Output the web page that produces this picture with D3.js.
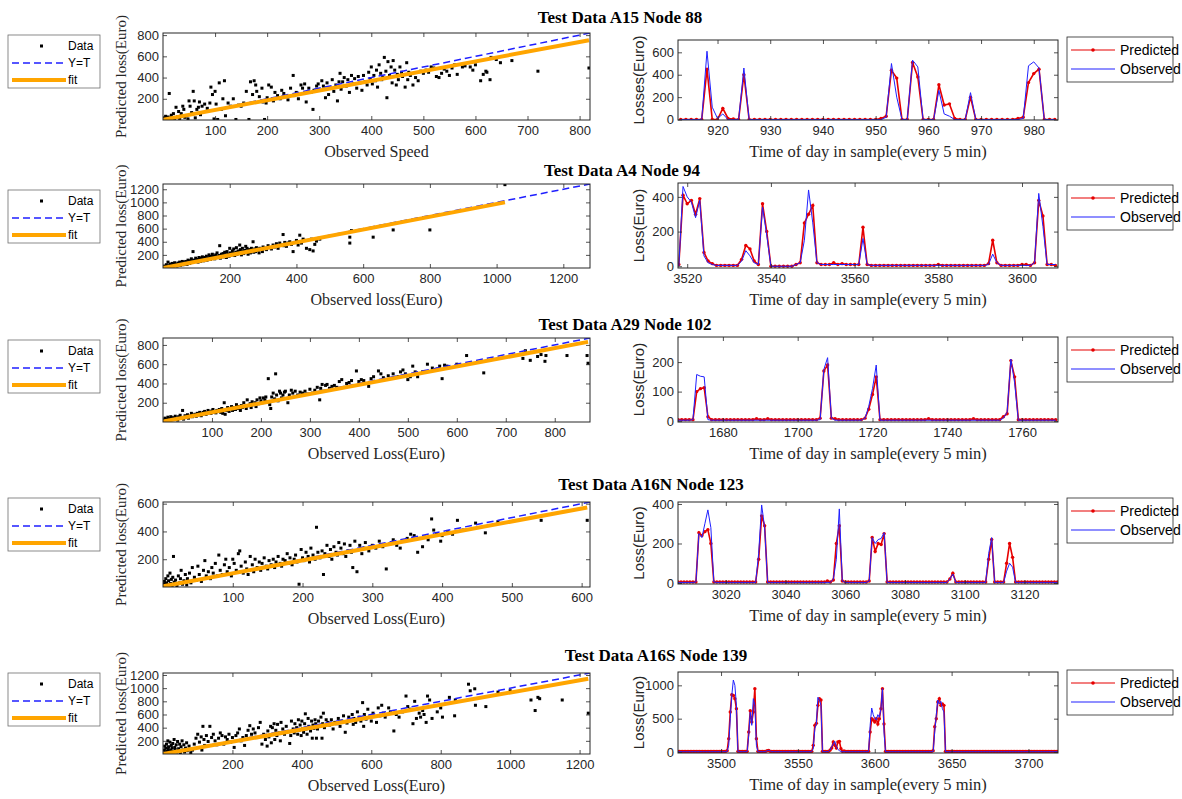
<!DOCTYPE html>
<html>
<head>
<meta charset="utf-8">
<script src="https://cdn.jsdelivr.net/npm/d3@7"></script>
<style>
body { margin: 0; background: #fff; }
</style>
</head>
<body>
<div id="chart"></div>
<script>
var titles = ['Test Data A15 Node 88', 'Test Data A4 Node 94', 'Test Data A29 Node 102',
    'Test Data A16N Node 123', 'Test Data A16S Node 139'];
var scatterXLabels = ['Observed Speed', 'Observed loss(Euro)', 'Observed Loss(Euro)',
    'Observed Loss(Euro)', 'Observed Loss(Euro)'];
var scatterYLabel = 'Predicted loss(Euro)';
var seriesXLabel = 'Time of day in sample(every 5 min)';
var seriesYLabels = ['Losses(Euro)', 'Loss(Euro)', 'Loss(Euro)', 'Loss(Euro)', 'Loss(Euro)'];

// scatter axes
var scatterMax = [820, 1280, 872, 612, 1230];
var scatterXTicks = [
    [100, 200, 300, 400, 500, 600, 700, 800],
    [200, 400, 600, 800, 1000, 1200],
    [100, 200, 300, 400, 500, 600, 700, 800],
    [100, 200, 300, 400, 500, 600],
    [200, 400, 600, 800, 1000, 1200]
];
var scatterYTicks = [
    [200, 400, 600, 800],
    [200, 400, 600, 800, 1000, 1200],
    [200, 400, 600, 800],
    [200, 400, 600],
    [200, 400, 600, 800, 1000, 1200]
];
// fit line end points [x0, y0, x1, y1]
var fitLines = [
    [0, 3, 818, 752],
    [0, 0, 1025, 1000],
    [0, 5, 868, 832],
    [0, 5, 608, 573],
    [0, 0, 1225, 1143]
];

// scatter points [observed, predicted]
var scatter1 = [[2,20],[4,5],[5,35],[8,12],[10,28],[12,250],[14,8],[16,45],[18,20],[20,60],[22,10],[25,120],[28,30],[30,80],[32,15],[35,60],[38,130],[40,100],[42,25],[45,40],[48,10],[50,180],[52,130],[55,70],[58,270],[60,180],[62,20],[65,100],[68,120],[70,170],[72,50],[75,130],[80,150],[85,110],[90,160],[92,310],[95,240],[98,10],[100,270],[102,150],[105,5],[108,350],[112,100],[115,200],[118,370],[120,40],[125,160],[130,130],[135,200],[140,5],[145,140],[150,130],[155,160],[160,270],[165,5],[168,360],[172,240],[175,370],[178,330],[180,270],[185,220],[190,300],[192,170],[195,5],[198,160],[200,210],[203,330],[208,310],[212,180],[215,260],[220,230],[225,200],[228,280],[232,250],[236,220],[240,190],[245,300],[250,420],[252,230],[256,260],[260,200],[265,330],[268,300],[272,340],[275,170],[280,300],[284,260],[288,100],[290,280],[295,320],[298,340],[302,280],[305,370],[308,320],[312,210],[315,350],[318,240],[322,300],[325,380],[328,270],[332,330],[335,180],[338,360],[340,440],[342,290],[345,360],[348,400],[352,320],[355,380],[358,260],[362,420],[365,340],[368,390],[372,300],[375,410],[378,350],[382,280],[385,420],[388,360],[392,330],[395,450],[398,390],[400,500],[402,340],[405,420],[408,370],[410,470],[412,310],[415,520],[418,440],[420,380],[422,400],[425,590],[428,460],[430,210],[432,550],[435,420],[438,500],[440,350],[442,560],[445,470],[448,330],[450,430],[452,380],[455,500],[458,450],[460,410],[465,310],[468,540],[470,380],[472,450],[475,420],[480,330],[485,400],[490,370],[495,460],[500,440],[505,470],[510,450],[515,500],[520,490],[525,410],[530,400],[535,440],[540,480],[545,460],[550,420],[555,490],[560,520],[565,430],[575,500],[580,510],[590,500],[595,470],[600,520],[610,370],[615,430],[620,460],[622,450],[628,380],[630,590],[640,570],[648,540],[670,560],[720,460],[818,490]];
var scatter2 = [[2,10],[5,30],[8,5],[10,50],[12,20],[15,90],[18,35],[20,15],[22,60],[25,40],[28,70],[30,25],[32,50],[35,80],[38,40],[40,60],[42,30],[45,75],[48,55],[50,90],[52,40],[55,65],[58,100],[60,50],[62,80],[65,60],[68,100],[70,75],[72,55],[75,120],[78,85],[80,70],[82,110],[85,140],[88,90],[90,250],[92,120],[95,100],[98,150],[100,110],[102,130],[105,90],[108,160],[110,125],[112,100],[115,150],[118,170],[120,130],[122,110],[125,160],[128,140],[130,180],[132,120],[135,150],[138,200],[140,160],[142,130],[145,175],[148,210],[150,150],[152,180],[155,140],[158,200],[160,170],[162,230],[165,160],[168,190],[170,340],[172,150],[175,210],[178,180],[180,220],[182,170],[185,240],[188,200],[190,160],[192,250],[195,210],[198,180],[200,300],[202,230],[205,200],[208,260],[210,220],[212,290],[215,190],[218,240],[220,310],[222,210],[225,260],[228,230],[230,350],[232,280],[235,200],[238,300],[240,250],[242,220],[245,270],[248,330],[250,240],[252,300],[255,210],[258,280],[260,250],[262,230],[265,300],[268,260],[270,400],[272,240],[275,290],[278,250],[280,310],[285,270],[288,230],[290,300],[295,280],[298,250],[300,320],[305,300],[310,280],[315,340],[320,310],[325,290],[330,350],[335,320],[340,370],[345,300],[350,380],[355,350],[360,510],[362,340],[365,390],[370,330],[375,380],[380,400],[385,360],[390,250],[395,390],[400,420],[405,350],[410,500],[415,380],[420,440],[425,420],[430,300],[440,280],[445,440],[450,260],[455,360],[460,410],[470,440],[560,380],[560,470],[565,570],[630,470],[690,580],[800,580],[1025,1270]];
var scatter3 = [[2,20],[4,40],[6,10],[8,30],[10,50],[12,15],[14,35],[16,55],[18,25],[20,45],[22,30],[25,60],[28,40],[30,20],[32,55],[35,70],[38,45],[40,120],[42,30],[45,65],[48,50],[50,75],[52,40],[55,60],[58,90],[60,55],[62,70],[65,80],[68,60],[70,90],[72,75],[75,100],[78,65],[80,85],[82,100],[85,110],[88,80],[90,95],[92,120],[95,105],[98,90],[100,115],[102,130],[105,100],[108,95],[110,120],[112,110],[115,130],[118,100],[120,140],[122,90],[125,200],[127,80],[130,120],[132,150],[135,110],[138,140],[140,160],[142,120],[145,150],[148,130],[150,180],[152,140],[155,160],[158,120],[160,170],[162,150],[165,200],[168,160],[170,140],[172,230],[175,170],[178,190],[180,150],[182,210],[185,180],[188,200],[190,160],[192,230],[195,190],[198,250],[200,220],[202,200],[205,250],[208,230],[210,260],[212,210],[215,450],[218,180],[220,140],[222,260],[225,300],[228,240],[230,500],[232,280],[235,220],[238,320],[240,300],[242,250],[245,280],[248,310],[250,320],[255,200],[258,280],[262,330],[265,300],[270,320],[275,280],[280,310],[285,300],[290,320],[295,290],[300,340],[305,300],[310,330],[315,360],[320,230],[322,350],[325,390],[328,320],[332,380],[335,390],[340,350],[345,370],[350,380],[355,360],[360,420],[365,440],[370,360],[375,400],[380,410],[385,430],[395,530],[400,420],[405,440],[410,430],[420,370],[425,450],[430,470],[440,530],[445,500],[450,460],[460,480],[470,500],[480,470],[485,520],[490,540],[495,500],[500,440],[505,470],[510,580],[515,520],[520,470],[530,520],[540,600],[550,560],[560,550],[565,580],[570,450],[575,590],[580,580],[600,600],[620,690],[655,510],[735,660],[740,740],[750,640],[765,680],[772,700],[780,630],[782,690],[825,690],[866,690],[868,610]];
var scatter4 = [[1,20],[2,40],[3,5],[4,60],[5,30],[6,10],[7,80],[8,45],[9,15],[10,100],[11,25],[12,55],[13,5],[14,70],[15,220],[16,35],[18,50],[20,10],[22,80],[24,30],[25,60],[26,120],[28,20],[30,45],[32,90],[34,15],[35,60],[38,100],[40,30],[42,140],[45,70],[48,50],[50,150],[52,90],[55,40],[58,120],[60,190],[62,80],[65,110],[68,60],[70,140],[72,100],[75,170],[78,80],[80,230],[82,120],[85,90],[88,160],[90,200],[92,110],[95,140],[98,80],[100,200],[102,170],[105,120],[108,240],[110,260],[112,150],[115,100],[118,180],[120,130],[122,90],[125,220],[128,160],[130,110],[132,200],[135,140],[138,180],[140,120],[142,170],[145,210],[148,150],[150,130],[152,190],[155,160],[158,200],[160,140],[162,180],[165,220],[168,170],[170,150],[172,200],[175,190],[178,240],[180,170],[182,210],[185,160],[188,200],[190,230],[192,180],[195,20],[198,270],[200,210],[202,190],[205,250],[208,220],[210,180],[212,280],[215,230],[218,200],[220,430],[222,250],[225,210],[228,260],[230,90],[232,240],[235,300],[238,220],[240,270],[242,200],[245,290],[248,250],[250,230],[252,320],[255,280],[258,240],[260,310],[262,220],[265,260],[268,300],[270,250],[272,140],[275,330],[278,110],[280,270],[282,300],[285,240],[288,280],[290,320],[295,260],[300,300],[305,280],[310,330],[315,290],[320,130],[325,310],[330,340],[335,300],[340,280],[345,330],[350,350],[355,380],[360,370],[365,250],[368,350],[372,290],[375,360],[380,340],[385,490],[388,410],[392,380],[398,330],[400,370],[408,400],[415,380],[422,480],[430,410],[448,460],[462,390],[480,470],[542,480],[608,480]];
var scatter5 = [[2,10],[4,60],[5,120],[6,20],[8,90],[10,150],[12,40],[14,200],[15,70],[16,110],[18,30],[20,180],[22,60],[24,130],[25,10],[26,90],[28,160],[30,40],[32,220],[34,100],[35,70],[38,140],[40,30],[42,190],[45,80],[48,150],[50,20],[52,110],[55,200],[58,60],[60,140],[62,30],[65,90],[68,170],[70,50],[75,120],[80,20],[85,60],[90,150],[95,240],[100,300],[105,180],[110,260],[112,60],[115,420],[118,220],[120,130],[125,280],[130,190],[135,420],[140,250],[145,300],[150,200],[155,140],[160,240],[165,320],[170,280],[175,150],[180,260],[185,220],[190,300],[195,180],[200,250],[205,100],[210,280],[215,320],[220,380],[225,200],[230,250],[235,130],[240,280],[245,360],[250,430],[255,300],[260,380],[265,320],[270,250],[275,400],[280,480],[285,150],[290,300],[295,220],[300,120],[302,350],[305,260],[310,420],[312,170],[315,400],[318,300],[320,460],[322,220],[325,360],[328,280],[330,450],[335,320],[338,200],[340,480],[345,380],[350,300],[355,420],[360,340],[365,160],[368,280],[370,500],[375,380],[378,320],[380,460],[385,400],[388,300],[390,520],[392,360],[395,440],[398,280],[400,500],[402,380],[405,330],[408,460],[410,610],[412,380],[415,300],[418,540],[420,420],[425,350],[428,500],[430,240],[432,440],[435,390],[438,520],[440,460],[442,240],[445,380],[448,500],[450,430],[455,560],[458,240],[460,460],[462,620],[465,400],[470,520],[475,480],[480,440],[485,520],[490,380],[495,480],[500,460],[505,540],[510,420],[515,500],[520,580],[525,330],[530,470],[535,560],[540,510],[545,600],[548,450],[550,540],[555,480],[560,640],[565,560],[570,500],[575,780],[578,420],[580,600],[585,530],[590,680],[595,560],[600,500],[605,620],[610,570],[615,480],[620,700],[625,580],[630,740],[635,620],[640,560],[650,700],[655,640],[665,350],[672,600],[680,560],[690,640],[700,880],[705,720],[712,680],[720,460],[725,800],[730,540],[738,620],[742,560],[748,660],[752,600],[758,480],[762,880],[768,820],[775,540],[790,640],[800,700],[805,560],[825,860],[840,580],[842,820],[880,1060],[885,960],[898,990],[900,740],[930,720],[965,940],[1000,960],[1060,820],[1072,660],[1080,860],[1085,840],[1150,820],[1225,620]];
var scatterSets = [scatter1, scatter2, scatter3, scatter4, scatter5];

// time series axes
var seriesStart = [913, 3518, 1668, 3004, 3472];
var seriesXDomain = [[912.5, 984.6], [3517.8, 3608.6], [1668, 1769.6], [3004, 3131.2], [3472, 3719.2]];
var seriesYDomain = [[-4, 710], [-10, 480], [-3, 285], [-5, 410], [-15, 1200]];
var seriesXTicks = [
    [920, 930, 940, 950, 960, 970, 980],
    [3520, 3540, 3560, 3580, 3600],
    [1680, 1700, 1720, 1740, 1760],
    [3020, 3040, 3060, 3080, 3100, 3120],
    [3500, 3550, 3600, 3650, 3700]
];
var seriesYTicks = [[0, 200, 400, 600], [0, 200, 400], [0, 100, 200], [0, 200, 400], [0, 500, 1000]];

var observed1 = [
    0,0,0,0,0,610,110,10,50,0,
    0,0,460,0,0,0,0,0,0,0,
    0,0,0,0,0,0,0,0,0,0,
    0,0,0,0,0,0,0,0,0,20,
    500,200,0,0,530,470,0,0,0,260,
    50,30,0,0,0,240,0,0,0,0,
    0,0,0,0,0,10,480,515,460,0,
    0,0];
var predicted1 = [
    0,0,0,0,0,450,0,0,100,10,
    5,0,400,0,0,0,0,0,0,0,
    0,0,0,0,0,0,0,0,0,0,
    0,0,0,0,0,0,0,0,10,30,
    440,370,0,0,510,380,0,0,0,310,
    130,140,10,0,0,200,0,0,0,0,
    0,0,0,0,10,20,330,410,450,0,
    0,0];
var observed2 = [
    0,460,400,370,280,380,60,20,10,5,
    5,5,5,5,5,30,90,60,20,10,
    340,180,0,0,0,0,0,0,10,20,
    150,440,250,20,10,10,10,10,10,10,
    10,10,10,10,160,10,5,5,5,5,
    5,5,5,5,5,5,5,5,5,5,
    5,5,5,5,5,5,5,5,5,5,
    5,5,5,5,10,70,20,5,5,5,
    5,5,5,5,5,20,420,230,10,10,
    10];
var predicted2 = [
    10,410,360,380,300,390,80,30,15,5,
    5,5,5,5,5,40,120,100,30,10,
    360,200,0,0,0,0,0,0,10,20,
    250,300,350,20,10,10,10,20,10,15,
    10,10,10,10,225,10,5,5,5,5,
    5,5,5,5,5,5,5,5,5,5,
    5,5,10,5,5,5,5,5,5,5,
    5,5,5,5,15,150,20,5,5,5,
    5,5,10,10,5,20,380,290,10,10,
    5];
var observed3 = [
    3,3,3,3,5,158,152,150,5,3,
    3,3,3,3,3,3,3,3,3,3,
    3,3,3,3,3,3,3,3,3,3,
    3,3,3,3,3,3,3,3,5,175,
    215,10,3,3,3,3,3,3,3,3,
    10,50,110,190,3,3,3,3,3,3,
    3,3,3,3,3,3,3,3,3,3,
    3,3,3,3,3,3,3,3,3,3,
    3,3,3,3,3,3,3,10,30,210,
    130,3,3,3,3,3,3,3,3,3,
    3,3];
var predicted3 = [
    5,5,5,5,5,100,110,113,15,5,
    5,5,5,5,5,5,5,5,5,5,
    5,8,5,5,8,5,5,5,5,5,
    5,5,5,5,5,5,5,5,10,170,
    190,10,8,5,5,5,5,5,5,5,
    10,40,90,150,5,5,5,5,5,5,
    5,5,5,5,5,5,5,8,5,5,
    5,5,5,5,5,5,5,5,5,8,
    5,5,5,5,5,5,5,15,25,205,
    150,5,5,5,5,5,5,5,5,5,
    5,5];
var observed4 = [
    3,3,3,3,3,3,5,250,230,300,
    370,280,5,3,3,3,3,3,3,3,
    3,3,3,3,3,3,3,150,395,280,
    3,3,3,3,3,3,3,3,3,3,
    3,3,3,3,3,3,3,3,3,3,
    3,3,20,120,375,10,3,3,3,3,
    3,3,3,3,10,230,200,220,225,255,
    3,3,3,3,3,3,3,3,3,3,
    3,3,3,3,3,3,3,3,3,3,
    3,20,45,3,3,3,3,3,3,3,
    3,3,3,3,150,230,3,3,3,3,
    60,100,80,3,3,3,3,3,3,3,
    3,3,3,3,3,3,3,3];
var predicted4 = [
    5,5,5,5,5,5,5,255,240,260,
    270,200,5,5,5,5,5,5,5,5,
    5,5,5,5,5,5,5,120,340,290,
    5,5,5,5,5,5,5,5,5,5,
    5,5,5,5,5,5,5,5,5,5,
    10,5,15,200,290,10,5,5,5,5,
    5,5,5,5,10,230,160,200,195,250,
    5,5,5,5,5,5,5,5,5,5,
    5,5,5,5,5,5,5,5,5,5,
    5,20,50,5,5,5,5,5,5,5,
    5,5,5,5,120,220,5,5,5,5,
    100,200,130,5,5,5,5,5,5,5,
    5,5,5,5,5,5,5,5];
var observed5 = [
    5,5,5,5,5,5,5,5,5,5,
    5,5,5,5,5,5,5,5,5,5,
    5,5,5,5,5,5,5,5,5,5,
    5,5,10,100,500,850,1080,1000,700,5,
    5,5,5,5,5,10,250,600,400,800,
    700,100,5,5,5,5,5,5,20,25,
    15,5,5,5,5,5,5,5,5,5,
    5,5,5,5,5,5,5,5,5,5,
    5,5,5,5,5,5,5,10,50,350,
    420,820,780,700,5,5,5,5,10,30,
    80,120,160,80,40,20,10,5,5,5,
    5,5,5,5,5,5,5,5,5,5,
    5,5,5,5,10,400,660,560,500,480,
    560,520,650,950,300,5,5,5,5,5,
    5,5,5,5,5,5,5,5,5,5,
    5,5,5,5,5,5,5,5,5,5,
    5,5,5,5,5,5,10,300,550,780,
    720,760,650,600,5,5,5,5,5,5,
    5,5,5,5,5,5,5,5,5,5,
    5,5,5,5,5,5,5,5,5,5,
    5,5,5,5,5,5,5,5,5,5,
    5,5,5,5,5,5,5,5,5,5,
    5,5,5,5,5,5,5,5,5,5,
    5,5,5,5,5,5,5,5,5,5,
    5,5,5,5,5,5,5,5];
var predicted5 = [
    10,10,10,10,10,10,10,10,10,10,
    10,10,10,10,10,10,10,10,10,10,
    10,10,10,10,10,10,10,10,10,10,
    10,10,20,200,600,860,850,800,650,10,
    10,10,10,10,10,10,300,620,450,600,
    950,200,10,10,10,10,10,10,20,25,
    10,10,10,10,10,10,10,10,10,10,
    10,10,10,10,10,10,10,10,10,10,
    10,10,10,10,10,10,10,10,100,400,
    430,700,800,780,10,10,10,10,10,30,
    60,150,100,60,150,160,50,10,15,10,
    10,10,10,10,10,10,10,10,10,10,
    10,10,10,10,10,300,500,480,450,500,
    420,500,650,950,420,10,10,10,10,10,
    10,10,10,10,10,10,10,10,10,10,
    10,10,10,10,10,10,10,10,10,10,
    10,10,10,10,10,10,20,380,500,750,
    800,700,720,700,10,10,10,10,10,10,
    10,10,10,10,10,10,10,10,10,10,
    10,10,10,10,10,10,10,10,10,10,
    10,10,10,10,10,10,10,10,10,10,
    10,10,10,10,10,10,10,10,10,10,
    10,10,10,10,10,10,10,10,10,10,
    10,10,10,10,10,10,10,10,10,10,
    10,10,10,10,10,10,10,10];
var observedSets = [observed1, observed2, observed3, observed4, observed5];
var predictedSets = [predicted1, predicted2, predicted3, predicted4, predicted5];

// page layout
var rows = [
    { lt: 33,  lb: 120, rt: 40,  rb: 120, lg: 35,  rg: 37,  ty: 23,  tx: 620 },
    { lt: 184, lb: 268, rt: 183, rb: 268, lg: 190, rg: 185, ty: 176, tx: 622 },
    { lt: 338, lb: 422, rt: 337, rb: 422, lg: 340, rg: 337, ty: 330, tx: 625 },
    { lt: 502, lb: 587, rt: 502, rb: 584, lg: 498, rg: 498, ty: 490, tx: 651 },
    { lt: 673, lb: 754, rt: 672, rb: 753, lg: 673, rg: 670, ty: 661, tx: 656 }
];
var leftX = [163, 590];
var rightX = [678, 1058];
var axisColor = '#262626';
var sans = '"Liberation Sans", Arial, sans-serif';
var serif = '"Liberation Serif", "Times New Roman", serif';
var plain = d3.format('d');

var svg = d3.select('#chart')
    .append('svg')
    .attr('width', 1182)
    .attr('height', 799)
    .style('font-family', sans);

function styleAxis(g) {
    g.select('.domain').remove();
    g.selectAll('.tick line').attr('stroke', axisColor).attr('stroke-width', 0.8);
    g.selectAll('.tick text').attr('fill', axisColor).style('font-size', '13px').style('font-family', sans);
}

function drawFrame(g, x, y, xTicks, yTicks) {
    var l = x.range()[0], r = x.range()[1], b = y.range()[0], t = y.range()[1];
    g.append('g').attr('transform', 'translate(0,' + b + ')')
        .call(d3.axisBottom(x).tickValues(xTicks).tickFormat(plain).tickSizeInner(-4).tickSizeOuter(0).tickPadding(6))
        .call(styleAxis);
    g.append('g').attr('transform', 'translate(0,' + t + ')')
        .call(d3.axisTop(x).tickValues(xTicks).tickSizeInner(-4).tickSizeOuter(0).tickFormat(''))
        .call(styleAxis);
    g.append('g').attr('transform', 'translate(' + l + ',0)')
        .call(d3.axisLeft(y).tickValues(yTicks).tickFormat(plain).tickSizeInner(-4).tickSizeOuter(0).tickPadding(4))
        .call(styleAxis);
    g.append('g').attr('transform', 'translate(' + r + ',0)')
        .call(d3.axisRight(y).tickValues(yTicks).tickSizeInner(-4).tickSizeOuter(0).tickFormat(''))
        .call(styleAxis);
    g.append('rect')
        .attr('x', l).attr('y', t)
        .attr('width', r - l).attr('height', b - t)
        .attr('fill', 'none')
        .attr('stroke', axisColor)
        .attr('stroke-width', 1);
}

function clipFor(id, x, y) {
    svg.append('clipPath').attr('id', id)
        .append('rect')
        .attr('x', x.range()[0]).attr('y', y.range()[1])
        .attr('width', x.range()[1] - x.range()[0])
        .attr('height', y.range()[0] - y.range()[1]);
    return 'url(#' + id + ')';
}

rows.forEach(function (row, i) {
    // title
    svg.append('text')
        .attr('x', row.tx).attr('y', row.ty)
        .attr('text-anchor', 'middle')
        .style('font-family', serif)
        .style('font-weight', 'bold')
        .style('font-size', '17px')
        .text(titles[i]);

    // ---- scatter ----
    var x = d3.scaleLinear().domain([0, scatterMax[i]]).range(leftX);
    var y = d3.scaleLinear().domain([0, scatterMax[i]]).range([row.lb, row.lt]);
    var g = svg.append('g');
    var plot = g.append('g').attr('clip-path', clipFor('cs' + i, x, y));

    plot.selectAll('rect.pt')
        .data(scatterSets[i])
        .enter()
        .append('rect')
        .attr('class', 'pt')
        .attr('x', function (d) { return x(d[0]) - 1.5; })
        .attr('y', function (d) { return y(d[1]) - 1.5; })
        .attr('width', 3)
        .attr('height', 3)
        .attr('fill', '#000');

    plot.append('line')
        .attr('x1', x(0)).attr('y1', y(0))
        .attr('x2', x(scatterMax[i])).attr('y2', y(scatterMax[i]))
        .attr('stroke', '#1f1fff')
        .attr('stroke-width', 1.5)
        .attr('stroke-dasharray', '7,4');

    var f = fitLines[i];
    plot.append('line')
        .attr('x1', x(f[0])).attr('y1', y(f[1]))
        .attr('x2', x(f[2])).attr('y2', y(f[3]))
        .attr('stroke', '#ffa500')
        .attr('stroke-width', 4);

    drawFrame(g, x, y, scatterXTicks[i], scatterYTicks[i]);

    g.append('text')
        .attr('x', (leftX[0] + leftX[1]) / 2).attr('y', row.lb + 37)
        .attr('text-anchor', 'middle')
        .attr('fill', axisColor)
        .style('font-family', serif).style('font-size', '16px')
        .text(scatterXLabels[i]);
    g.append('text')
        .attr('transform', 'translate(126,' + (row.lt + row.lb) / 2 + ') rotate(-90)')
        .attr('text-anchor', 'middle')
        .attr('fill', axisColor)
        .style('font-family', serif).style('font-size', '15px')
        .text(scatterYLabel);

    // left legend
    var lg = svg.append('g').attr('transform', 'translate(8,' + row.lg + ')');
    lg.append('rect').attr('width', 92).attr('height', 53)
        .attr('fill', '#fff').attr('stroke', '#6e6e6e').attr('stroke-width', 0.8);
    lg.append('rect').attr('x', 32).attr('y', 9.5).attr('width', 3).attr('height', 3).attr('fill', '#000');
    lg.append('line').attr('x1', 4).attr('x2', 58).attr('y1', 28).attr('y2', 28)
        .attr('stroke', '#1f1fff').attr('stroke-width', 1.5).attr('stroke-dasharray', '7,4');
    lg.append('line').attr('x1', 4).attr('x2', 58).attr('y1', 45).attr('y2', 45)
        .attr('stroke', '#ffa500').attr('stroke-width', 4);
    ['Data', 'Y=T', 'fit'].forEach(function (s, k) {
        lg.append('text').attr('x', 60).attr('y', 15 + k * 17)
            .style('font-size', '12px').attr('fill', '#000').text(s);
    });

    // ---- time series ----
    var xs = d3.scaleLinear().domain(seriesXDomain[i]).range(rightX);
    var ys = d3.scaleLinear().domain(seriesYDomain[i]).range([row.rb, row.rt]);
    var g2 = svg.append('g');
    var plot2 = g2.append('g').attr('clip-path', clipFor('ct' + i, xs, ys));
    var t0 = seriesStart[i];
    var line = d3.line()
        .x(function (d, k) { return xs(t0 + k); })
        .y(function (d) { return ys(d); });

    plot2.append('path')
        .datum(predictedSets[i])
        .attr('d', line)
        .attr('fill', 'none')
        .attr('stroke', '#e60000')
        .attr('stroke-width', 1.6);
    plot2.selectAll('circle')
        .data(predictedSets[i])
        .enter()
        .append('circle')
        .attr('cx', function (d, k) { return xs(t0 + k); })
        .attr('cy', function (d) { return ys(d); })
        .attr('r', 1.7)
        .attr('fill', '#e60000');
    plot2.append('path')
        .datum(observedSets[i])
        .attr('d', line)
        .attr('fill', 'none')
        .attr('stroke', '#2020ff')
        .attr('stroke-width', 1);

    drawFrame(g2, xs, ys, seriesXTicks[i], seriesYTicks[i]);

    g2.append('text')
        .attr('x', (rightX[0] + rightX[1]) / 2).attr('y', row.rb + 37)
        .attr('text-anchor', 'middle')
        .attr('fill', axisColor)
        .style('font-family', serif).style('font-size', '16.5px')
        .text(seriesXLabel);
    g2.append('text')
        .attr('transform', 'translate(644,' + (row.rt + row.rb) / 2 + ') rotate(-90)')
        .attr('text-anchor', 'middle')
        .attr('fill', axisColor)
        .style('font-size', '15px')
        .text(seriesYLabels[i]);

    // right legend
    var rg = svg.append('g').attr('transform', 'translate(1067,' + row.rg + ')');
    rg.append('rect').attr('width', 106).attr('height', 45)
        .attr('fill', '#fff').attr('stroke', '#262626').attr('stroke-width', 0.8);
    rg.append('line').attr('x1', 4).attr('x2', 48).attr('y1', 13).attr('y2', 13)
        .attr('stroke', '#e60000').attr('stroke-width', 1.2);
    rg.append('circle').attr('cx', 26).attr('cy', 13).attr('r', 1.8).attr('fill', '#e60000');
    rg.append('line').attr('x1', 4).attr('x2', 48).attr('y1', 32).attr('y2', 32)
        .attr('stroke', '#2020ff').attr('stroke-width', 1.2);
    ['Predicted', 'Observed'].forEach(function (s, k) {
        rg.append('text').attr('x', 53).attr('y', 18 + k * 19)
            .style('font-size', '14px').attr('fill', '#000').text(s);
    });
});
</script>
</body>
</html>
